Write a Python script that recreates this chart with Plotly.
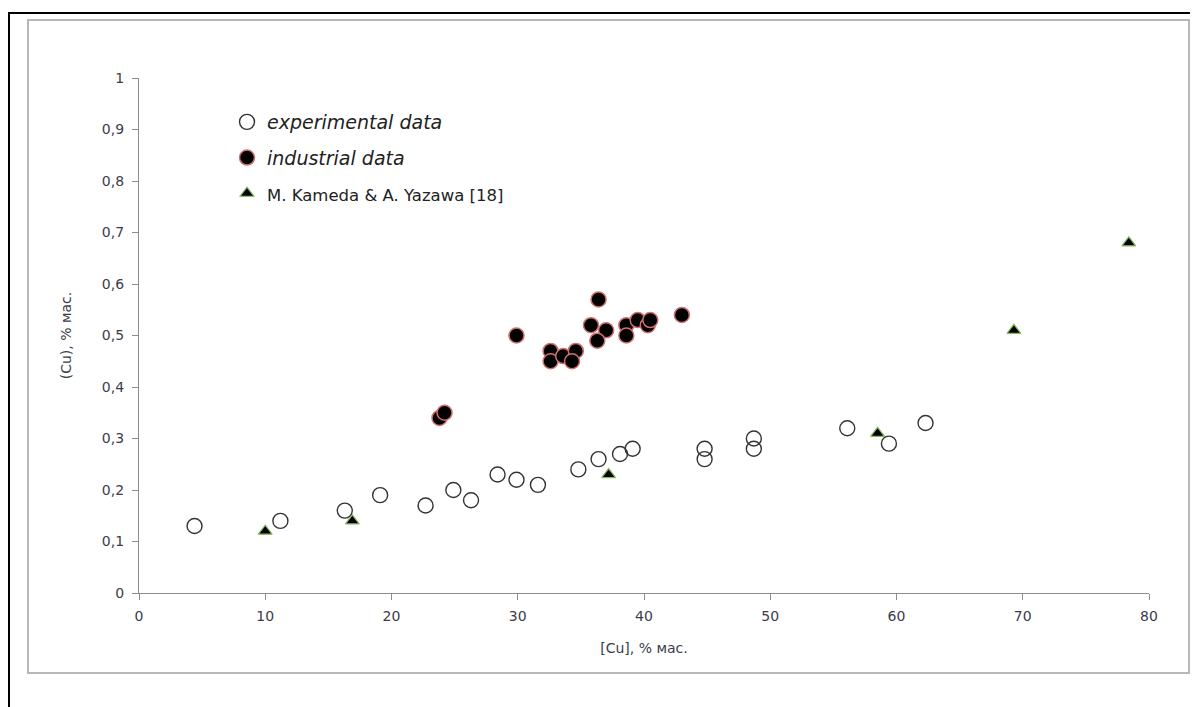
import plotly.graph_objects as go

# Experimental data (open circles)
exp_x = [4.4, 11.2, 16.3, 19.1, 22.7, 24.9, 26.3, 28.4, 29.9, 31.6, 34.8, 36.4, 38.1, 39.1,
         44.8, 44.8, 48.7, 48.7, 56.1, 59.4, 62.3]
exp_y = [0.13, 0.14, 0.16, 0.19, 0.17, 0.20, 0.18, 0.23, 0.22, 0.21, 0.24, 0.26, 0.27, 0.28,
         0.26, 0.28, 0.28, 0.30, 0.32, 0.29, 0.33]

# Industrial data (filled circles)
ind_x = [23.8, 24.2, 29.9, 32.6, 32.6, 33.6, 34.6, 34.3, 36.4, 35.8, 37.0, 36.3, 38.6, 38.6,
         39.5, 40.3, 40.5, 43.0]
ind_y = [0.34, 0.35, 0.50, 0.47, 0.45, 0.46, 0.47, 0.45, 0.57, 0.52, 0.51, 0.49, 0.52, 0.50,
         0.53, 0.52, 0.53, 0.54]

# M. Kameda & A. Yazawa [18] (triangles)
kam_x = [10.0, 16.9, 37.2, 58.5, 69.3, 78.4]
kam_y = [0.12, 0.14, 0.23, 0.31, 0.51, 0.68]

x_ticks = [0, 10, 20, 30, 40, 50, 60, 70, 80]
y_ticks = [0, 0.1, 0.2, 0.3, 0.4, 0.5, 0.6, 0.7, 0.8, 0.9, 1]
y_tick_text = ["0", "0,1", "0,2", "0,3", "0,4", "0,5", "0,6", "0,7", "0,8", "0,9", "1"]

tick_font = dict(family="DejaVu Sans, sans-serif", size=14, color="#3c3c4a")
title_font = dict(family="DejaVu Sans, sans-serif", size=14, color="#3c3c4a")

fig = go.Figure()
fig.add_trace(go.Scatter(
    x=exp_x, y=exp_y, mode="markers", legendgroup="a",
    name="<i>experimental data</i>",
    marker=dict(symbol="circle-open", size=15, color="#333333", line=dict(width=1.4, color="#333333")),
))
fig.add_trace(go.Scatter(
    x=ind_x, y=ind_y, mode="markers", legendgroup="b",
    name="<i>industrial data</i>",
    marker=dict(symbol="circle", size=15, color="#000000", line=dict(width=1.5, color="#d07070")),
))
fig.add_trace(go.Scatter(
    x=kam_x, y=kam_y, mode="markers", legendgroup="c",
    name="<span style='font-size:16.5px;font-style:normal'>M. Kameda &amp; A. Yazawa [18]</span>",
    marker=dict(symbol="triangle-up", size=12, color="#000000", line=dict(width=1.2, color="#8ab860")),
))

# page is offset by the 8px body margin
OFF = 8
FW, FH = 1198 - OFF, 707 - OFF
L, T, W, H = 139 - OFF, 78 - OFF, 1010, 515

def px(xp):
    return (xp - OFF - L) / W

def py(yp):
    return (T + H - (yp - OFF)) / H

shapes = [
    dict(type="line", xref="paper", yref="paper", x0=px(8), x1=px(1198), y0=py(13), y1=py(13),
         line=dict(color="black", width=2)),
    dict(type="line", xref="paper", yref="paper", x0=px(9), x1=px(9), y0=py(13), y1=py(707),
         line=dict(color="black", width=2)),
    dict(type="rect", xref="paper", yref="paper", x0=px(28), x1=px(1189), y0=py(673), y1=py(20),
         line=dict(color="#b8b8b8", width=2)),
]

fig.update_layout(
    width=FW, height=FH,
    margin=dict(l=L, r=FW - L - W, t=T, b=FH - T - H),
    paper_bgcolor="white", plot_bgcolor="white",
    showlegend=True,
    legend=dict(
        x=px(227), y=py(103), xanchor="left", yanchor="top",
        font=dict(family="DejaVu Sans, sans-serif", size=19, color="#222222"),
        bgcolor="rgba(0,0,0,0)", tracegroupgap=8,
    ),
    shapes=shapes,
    xaxis=dict(
        range=[0, 80], tickvals=x_ticks, ticktext=[str(v) for v in x_ticks],
        showgrid=False, zeroline=False, showline=True, linecolor="#8c8c8c", linewidth=1.3,
        ticks="outside", ticklen=6, tickcolor="#8c8c8c", tickfont=tick_font,
        ticklabelstandoff=4,
        title=dict(text="[Cu], % мас.", font=title_font, standoff=20),
    ),
    yaxis=dict(
        range=[0, 1], tickvals=y_ticks, ticktext=y_tick_text,
        showgrid=False, zeroline=False, showline=True, linecolor="#8c8c8c", linewidth=1.3,
        ticks="outside", ticklen=6, tickcolor="#8c8c8c", tickfont=tick_font,
        ticklabelstandoff=5,
        title=dict(text="(Cu), % мас.", font=title_font, standoff=26),
    ),
)

fig.write_html("out.html")
